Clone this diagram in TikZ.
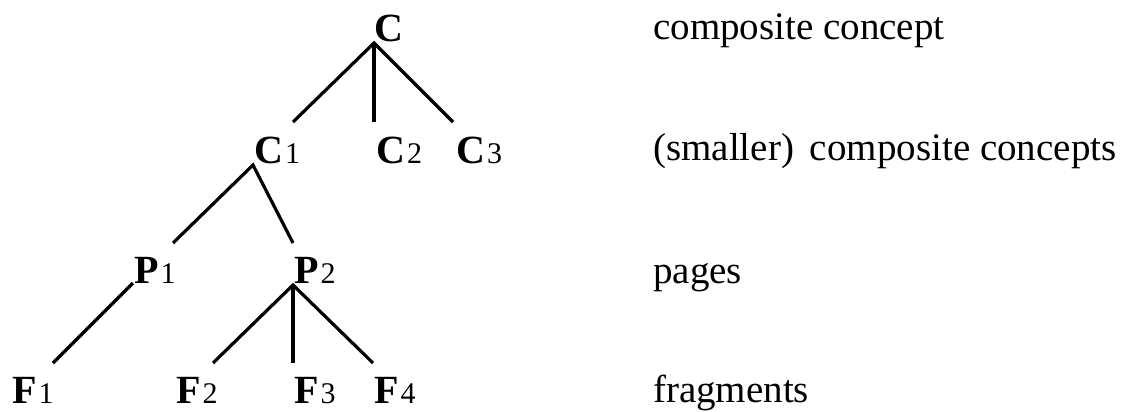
\documentclass[tikz,border=0pt]{standalone}
\usepackage{fontspec}
\setmainfont{Liberation Serif}
\newcommand{\sbs}[1]{\hspace{2pt}{\mdseries\fontsize{30}{32}\selectfont #1}}
\tikzset{
  lbl/.style={anchor=base west, inner sep=0pt, font=\fontsize{39}{41}\selectfont},
  tn/.style={anchor=base west, inner sep=0pt, font=\fontsize{40}{42}\selectfont\bfseries},
  edge/.style={line width=3.2pt}
}
\begin{document}
\begin{tikzpicture}[x=1pt,y=-1pt]
\useasboundingbox[fill=white] (0,0) rectangle (1138,412);
% tree nodes
\node[tn] (C)  at (374,42)  {C};
\node[tn] (C1) at (254,163) {C\sbs{1}};
\node[tn] (C2) at (376,163) {C\sbs{2}};
\node[tn] (C3) at (456,163) {C\sbs{3}};
\node[tn] (P1) at (134,283) {P\sbs{1}};
\node[tn] (P2) at (294,283) {P\sbs{2}};
\node[tn] (F1) at (12,403)  {F\sbs{1}};
\node[tn] (F2) at (176,403) {F\sbs{2}};
\node[tn] (F3) at (294,403) {F\sbs{3}};
\node[tn] (F4) at (374,403) {F\sbs{4}};
% edges
\draw[edge] ([shift={(39,-41)}]C1.base west) -- ([shift={(0,1)}]C.base west) -- ([shift={(-3,-41)}]C3.base west);
\draw[edge] ([shift={(0,1)}]C.base west) -- ([shift={(-2,-41)}]C2.base west);
\draw[edge] ([shift={(39,-40)}]P1.base west) -- ([shift={(-1,2)}]C1.base west) -- ([shift={(-1,-40)}]P2.base west);
\draw[edge] ([shift={(-1,0)}]P1.base west) -- ([shift={(41,-40)}]F1.base west);
\draw[edge] ([shift={(37,-40)}]F2.base west) -- ([shift={(-1,2)}]P2.base west) -- ([shift={(-1,-40)}]F4.base west);
\draw[edge] ([shift={(-1,2)}]P2.base west) -- ([shift={(-1,-40)}]F3.base west);
% level labels
\node[lbl] (l1) at (653,40)  {composite concept};
\node[lbl] (l2) at (653,160) {(smaller)\hspace{16pt}composite concepts};
\node[lbl] (l3) at (653,283) {pages};
\node[lbl] (l4) at (653,402) {fragments};
\end{tikzpicture}
\end{document}
